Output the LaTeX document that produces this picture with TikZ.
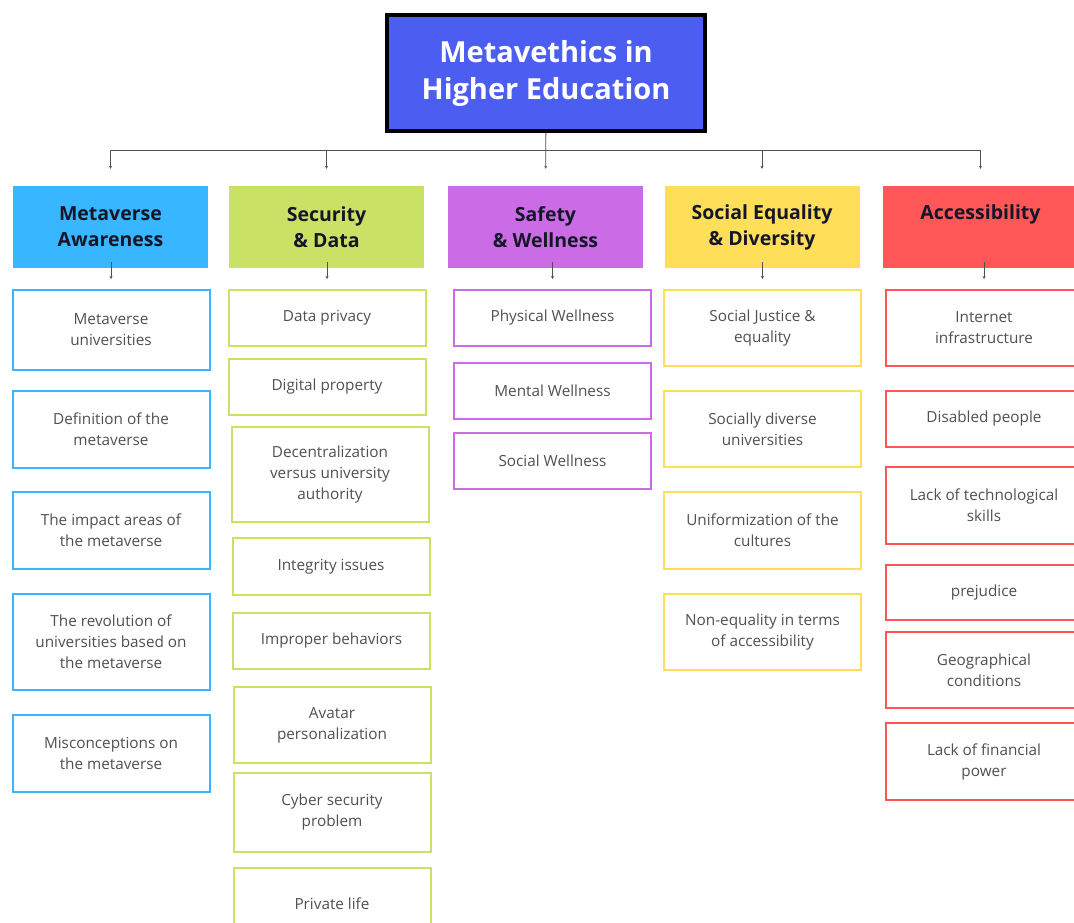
\documentclass[tikz,border=0pt]{standalone}
\usepackage{fontspec}
\setmainfont{Open Sans}
\usetikzlibrary{positioning,arrows.meta}
\definecolor{titleblue}{HTML}{4C5EF2}
\definecolor{awblue}{HTML}{38B6FF}
\definecolor{secgreen}{HTML}{C9E265}
\definecolor{safpurple}{HTML}{CB6CE6}
\definecolor{eqyellow}{HTML}{FFDE59}
\definecolor{accred}{HTML}{FF5757}
\definecolor{linkgray}{HTML}{505050}
\definecolor{itemgray}{HTML}{505050}
\definecolor{headink}{HTML}{161629}
\tikzset{%
  title box/.style={
    draw=black,
    line width=4pt,
    fill=titleblue,
    text=white,
    align=center,
    minimum width=318,
    minimum height=116,
    font=\bfseries\fontsize{29}{37}\selectfont
  },
  topic/.style={
    fill=#1,
    text=headink,
    align=center,
    minimum width=195,
    minimum height=82,
    font=\bfseries\fontsize{19.5}{26}\selectfont
  },
  one line/.style={text depth=30pt},
  item/.style={
    draw=#1,
    line width=2pt,
    fill=white,
    text=itemgray,
    align=center,
    minimum width=197,
    inner sep=0pt,
    font=\fontsize{15.3}{21}\selectfont
  },
  link/.style={
    draw=linkgray,
    line width=0.9pt,
    -{Stealth[length=3pt,width=3pt]}
  },
}

\begin{document}
\begin{tikzpicture}[x=1pt, y=-1pt]
\useasboundingbox (0,0) rectangle (1074,922);
\clip (0,0) rectangle (1074,922);

\node [title box] (title) at (546,73) {Metavethics in\\Higher Education};

% topics
\node [topic=awblue]    (aw)  at (110.5,227) {Metaverse\\Awareness};
\node [topic=secgreen]  (sec) at (326.5,227) {Security\\\& Data};
\node [topic=safpurple] (saf) at (545.5,227) {Safety\\\& Wellness};
\node [topic=eqyellow]  (eq)  at (762,227)   {Social Equality\\\& Diversity};
\node [topic=accred, one line] (acc) at (980.5,227) {Accessibility};

% items
\foreach \t/\y/\h [count=\i] in {
  Metaverse\\universities/330/80,
  Definition of the\\metaverse/429.5/77,
  The impact areas of\\the metaverse/530.5/77,
  The revolution of\\universities based on\\the metaverse/642/96,
  Misconceptions on\\the metaverse/753.5/77}
  \node [item=awblue, minimum height=\h] (aw-\i) at (111,\y) {\t};

\foreach \t/\x/\y/\h [count=\i] in {
  Data privacy/327/318/56,
  Digital property/327/387/56,
  Decentralization\\versus university\\authority/330/474.5/95,
  Integrity issues/331/566.5/57,
  Improper behaviors/331.5/641/56,
  Avatar\\personalization/332/725/76,
  Cyber security\\problem/332/812.5/79,
  Private life/332/904/72}
  \node [item=secgreen, minimum height=\h] (sec-\i) at (\x,\y) {\t};

\foreach \t/\y [count=\i] in {
  Physical Wellness/318,
  Mental Wellness/391,
  Social Wellness/461}
  \node [item=safpurple, minimum height=56] (saf-\i) at (552.5,\y) {\t};

\foreach \t/\y/\h [count=\i] in {
  Social Justice \&\\equality/328/76,
  Socially diverse\\universities/429/76,
  Uniformization of the\\cultures/530.5/77,
  Non-equality in terms\\of accessibility/632/76}
  \node [item=eqyellow, minimum height=\h] (eq-\i) at (762.5,\y) {\t};

\foreach \t/\y/\h [count=\i] in {
  Internet\\infrastructure/328/76,
  Disabled people/419/56,
  Lack of technological\\skills/505.5/77,
  prejudice/592.5/55,
  Geographical\\conditions/670/76,
  Lack of financial\\power/761.5/77}
  \node [item=accred, minimum height=\h] (acc-\i) at (984,\y) {\t};

% connectors
\coordinate (bus) at (546,150);
\draw [linkgray, line width=0.9pt] (bus -| aw) -- (bus -| acc);
\draw [link, shorten >=17pt] (title) -- (saf);
\foreach \n in {aw,sec,eq,acc}
  \draw [link, shorten >=17pt] (bus -| \n) -- (\n);

\foreach \n in {aw,sec,saf,eq,acc}
  \draw [link, shorten <=-6pt, shorten >=10pt] (\n-1 |- \n.south) -- (\n-1);
\end{tikzpicture}
\end{document}
